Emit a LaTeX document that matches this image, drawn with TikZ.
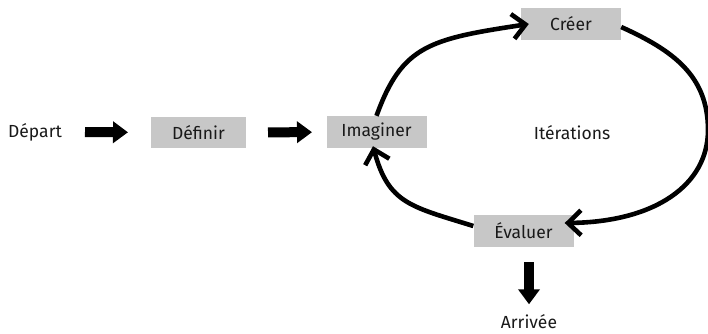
\documentclass[tikz,border=0pt]{standalone}
\usepackage{fontspec}
\setmainfont{Fira Sans}
\usetikzlibrary{arrows.meta}
\definecolor{boxgray}{RGB}{199,199,199}
\definecolor{txt}{RGB}{25,25,25}
\begin{document}
\begin{tikzpicture}[x=1pt,y=-1pt,
  every node/.style={font=\fontsize{17.5}{20}\selectfont, text=txt},
  stepbox/.style={fill=boxgray, minimum width=100pt, minimum height=32pt, inner sep=0pt},
  label/.style={inner sep=0pt},
  fatarrow/.style={line width=10pt, -{Triangle[length=15pt,width=21pt]}},
  loop/.style={line width=4.6pt, -{Straight Barb[length=13pt,width=25pt]}}]
\useasboundingbox (0,0) rectangle (708,333);
\node[label] (depart) at (35,132) {Départ};
\node[stepbox, minimum width=95pt, minimum height=31pt] (definir) at (198.5,132.5) {Définir};
\node[stepbox] (imaginer) at (376.5,132) {Imaginer};
\node[stepbox] (creer) at (571,24) {Créer};
\node[stepbox] (evaluer) at (523.5,231) {Évaluer};
\node[label] (iter) at (572,133) {Itérations};
\node[label, anchor=base] (arrivee) at (529,328.5) {Arrivée};
% straight fat arrows
\draw[fatarrow, shorten <=50pt, shorten >=70.5pt] (depart.center) -- (definir.center);
\draw[fatarrow, shorten <=69.5pt, shorten >=64.5pt] (definir.center) -- (imaginer.center);
\draw[fatarrow, shorten <=15pt] (evaluer.south -| arrivee.north) -- ([yshift=10pt]arrivee.north);
% loop
\draw[loop] (imaginer.north) .. controls (402,45.5) and (429,39) .. ([xshift=8pt]creer.west);
\draw[loop] ([yshift=-3pt]creer.east) .. controls (672,50) and (708,75) .. (708,130)
   .. controls (708,185) and (655,222) .. ([shift={(-9pt,8pt)}]evaluer.east);
\draw[loop] ([yshift=5pt]evaluer.west) .. controls (411,206.5) and (388.6,204) .. ([shift={(-3.5pt,2pt)}]imaginer.south);
\end{tikzpicture}
\end{document}
